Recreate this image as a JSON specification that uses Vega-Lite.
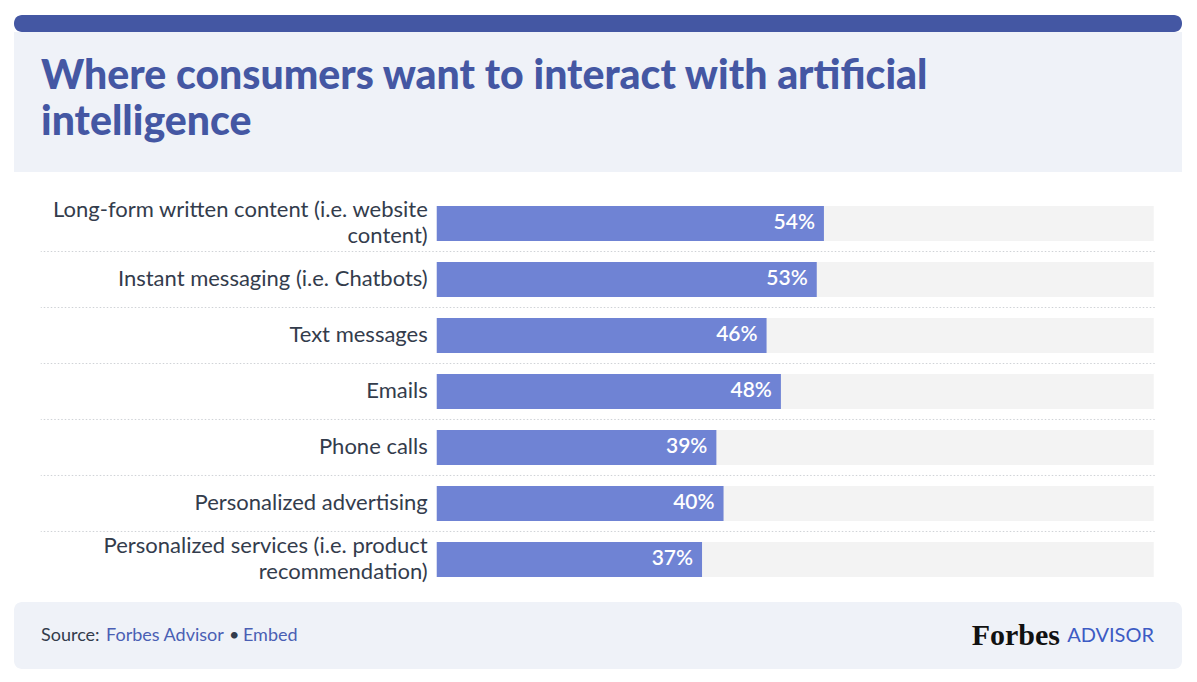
{
  "$schema": "https://vega.github.io/schema/vega-lite/v6.json",
  "background": "white",
  "padding": {"left": 14, "top": 15, "right": 15, "bottom": 13},
  "spacing": 0,
  "center": true,
  "config": {"view": {"stroke": null}, "font": "Lato"},
  "vconcat": [
    {
      "width": 1168,
      "height": 17,
      "view": {"fill": "#4457a3", "stroke": null, "cornerRadius": 8},
      "data": {"values": [{}]},
      "mark": {"type": "text"},
      "encoding": {"text": {"value": ""}}
    },
    {
      "width": 1168,
      "height": 140,
      "view": {"fill": "#eff2f8", "stroke": null},
      "title": {
        "text": ["Where consumers want to interact with artificial", "intelligence"],
        "anchor": "start",
        "frame": "group",
        "offset": -112,
        "dx": 27,
        "font": "Lato",
        "fontSize": 41,
        "fontWeight": 900,
        "color": "#4457a3",
        "lineHeight": 46
      },
      "data": {"values": [{}]},
      "mark": {"type": "text"},
      "encoding": {"text": {"value": ""}}
    },
    {
      "width": 1114,
      "height": 430,
      "view": {"fill": "white", "stroke": null},
      "data": {
        "values": [
          {"category": "Long-form written content (i.e. website\ncontent)", "value": 0.54},
          {"category": "Instant messaging (i.e. Chatbots)", "value": 0.53},
          {"category": "Text messages", "value": 0.46},
          {"category": "Emails", "value": 0.48},
          {"category": "Phone calls", "value": 0.39},
          {"category": "Personalized advertising", "value": 0.40},
          {"category": "Personalized services (i.e. product\nrecommendation)", "value": 0.37}
        ]
      },
      "encoding": {
        "y": {
          "field": "category",
          "type": "nominal",
          "sort": null,
          "axis": null,
          "scale": {"paddingInner": 0.375, "paddingOuter": 0.527, "align": 0.576}
        }
      },
      "layer": [
        {
          "mark": {"type": "bar", "color": "#f3f3f3"},
          "encoding": {
            "x": {"datum": 1, "type": "quantitative", "scale": {"domain": [-0.5523, 1.0014], "nice": false, "zero": false}, "axis": null}
          }
        },
        {
          "mark": {"type": "bar", "color": "#6f83d4"},
          "encoding": {
            "x": {"field": "value", "type": "quantitative"}
          }
        },
        {
          "mark": {"type": "text", "align": "right", "baseline": "middle", "dx": -9, "color": "white", "fontSize": 21, "fontWeight": 600, "font": "Lato"},
          "encoding": {
            "x": {"field": "value", "type": "quantitative"},
            "text": {"field": "value", "type": "quantitative", "format": ".0%"}
          }
        },
        {
          "transform": [{"filter": "indexof(datum.category, '\\n') < 0"}],
          "mark": {"type": "text", "align": "right", "baseline": "middle", "dx": -9, "color": "#333c4c", "fontSize": 22, "font": "Lato"},
          "encoding": {
            "x": {"datum": 0, "type": "quantitative"},
            "text": {"field": "category", "type": "nominal"}
          }
        },
        {
          "transform": [{"filter": "indexof(datum.category, '\\n') >= 0"}],
          "mark": {"type": "text", "align": "right", "baseline": "middle", "dx": -9, "dy": -13, "color": "#333c4c", "fontSize": 22, "font": "Lato", "lineBreak": "\n", "lineHeight": 26},
          "encoding": {
            "x": {"datum": 0, "type": "quantitative"},
            "text": {"field": "category", "type": "nominal"}
          }
        },
        {
          "transform": [{"filter": "datum.value !== 0.54"}],
          "mark": {"type": "rule", "yOffset": -28, "color": "#cfd2d6", "strokeWidth": 1, "strokeDash": [1.5, 2]},
          "encoding": {}
        }
      ]
    },
    {
      "width": 1168,
      "height": 67,
      "view": {"fill": "#eff2f8", "stroke": null, "cornerRadius": 8},
      "data": {"values": [{}]},
      "layer": [
        {
          "mark": {"type": "text", "align": "left", "baseline": "middle", "fontSize": 18, "font": "Lato", "color": "#333c4c"},
          "encoding": {"x": {"datum": -0.5523, "type": "quantitative", "scale": {"domain": [-0.58996, 1.03905], "nice": false, "zero": false}, "axis": null}, "text": {"value": "Source:"}}
        },
        {
          "mark": {"type": "text", "align": "left", "baseline": "middle", "fontSize": 18, "font": "Lato", "color": "#4a5fb4"},
          "encoding": {"x": {"datum": -0.4616, "type": "quantitative"}, "text": {"value": "Forbes Advisor"}}
        },
        {
          "mark": {"type": "text", "align": "left", "baseline": "middle", "fontSize": 18, "font": "Lato", "color": "#333c4c"},
          "encoding": {"x": {"datum": -0.2901, "type": "quantitative"}, "text": {"value": "•"}}
        },
        {
          "mark": {"type": "text", "align": "left", "baseline": "middle", "fontSize": 18, "font": "Lato", "color": "#4a5fb4"},
          "encoding": {"x": {"datum": -0.2706, "type": "quantitative"}, "text": {"value": "Embed"}}
        },
        {
          "mark": {"type": "text", "align": "right", "baseline": "middle", "fontSize": 30, "font": "Liberation Serif", "fontWeight": "bold", "color": "#111111"},
          "encoding": {"x": {"datum": 0.8689, "type": "quantitative"}, "text": {"value": "Forbes"}}
        },
        {
          "mark": {"type": "text", "align": "right", "baseline": "middle", "fontSize": 20, "font": "Lato", "color": "#3d5bc4"},
          "encoding": {"x": {"datum": 1, "type": "quantitative"}, "text": {"value": "ADVISOR"}}
        }
      ]
    }
  ]
}
